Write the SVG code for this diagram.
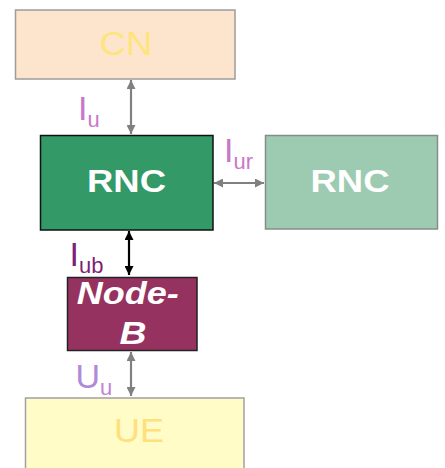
<svg xmlns="http://www.w3.org/2000/svg" width="445" height="468" viewBox="0 0 445 468">
  <style>
    .box { stroke-width: 1.5; }
    .name { font-family: "Liberation Sans", Arial, sans-serif; text-anchor: middle; }
    .bold { font-weight: bold; fill: #ffffff; }
    .iface { font-family: "Liberation Sans", Arial, sans-serif; font-size: 34px; }
    .link { stroke-width: 2.2; fill: none; }
    .grey { stroke: #808080; }
    .dark { stroke: #000000; }
  </style>
  <defs>
    <marker id="tipGrey" viewBox="0 0 10 10" refX="10" refY="5" markerWidth="9" markerHeight="9" markerUnits="userSpaceOnUse" orient="auto-start-reverse">
      <path d="M0,0 L10,5 L0,10 z" fill="#808080"/>
    </marker>
    <marker id="tipDark" viewBox="0 0 10 10" refX="10" refY="5" markerWidth="9" markerHeight="9" markerUnits="userSpaceOnUse" orient="auto-start-reverse">
      <path d="M0,0 L10,5 L0,10 z" fill="#000000"/>
    </marker>
  </defs>

  <rect width="445" height="468" fill="#ffffff"/>

  <!-- links between network elements -->
  <g id="connectors">
    <line class="link grey" x1="131" y1="80" x2="131" y2="134" marker-start="url(#tipGrey)" marker-end="url(#tipGrey)"/>
    <line class="link grey" x1="214" y1="183" x2="264" y2="183" marker-start="url(#tipGrey)" marker-end="url(#tipGrey)"/>
    <line class="link dark" x1="129" y1="231" x2="129" y2="275" marker-start="url(#tipDark)" marker-end="url(#tipDark)"/>
    <line class="link grey" x1="131" y1="352" x2="131" y2="396" marker-start="url(#tipGrey)" marker-end="url(#tipGrey)"/>
    <text class="iface" x="78" y="120" fill="#c878c8">I<tspan font-size="22" dy="7">u</tspan></text>
    <text class="iface" x="224" y="162" fill="#c878c8">I<tspan font-size="22" dy="7">ur</tspan></text>
    <text class="iface" x="69.5" y="266" fill="#7e1f78">I<tspan font-size="22" dy="7">ub</tspan></text>
    <text class="iface" x="75.5" y="388" fill="#b08ad4">U<tspan font-size="22" dy="7" fill="#c084d0">u</tspan></text>
  </g>

  <g id="cn">
    <rect class="box" x="15.5" y="10" width="219.5" height="69" fill="#fde4cd" stroke="#9c9c9c"/>
    <text class="name" x="126" y="55" font-size="33" textLength="53" lengthAdjust="spacingAndGlyphs" fill="#fde47c">CN</text>
  </g>

  <g id="rnc-serving">
    <rect class="box" x="40.5" y="135.5" width="172.5" height="94.5" fill="#339966" stroke="#111111"/>
    <text class="name bold" x="126.5" y="192" font-size="31" textLength="79" lengthAdjust="spacingAndGlyphs">RNC</text>
  </g>

  <g id="rnc-drift">
    <rect class="box" x="265.5" y="135.5" width="172" height="93.5" fill="#9ccbb2" stroke="#8a8a8a"/>
    <text class="name bold" x="350" y="192" font-size="31" textLength="79" lengthAdjust="spacingAndGlyphs">RNC</text>
  </g>

  <g id="node-b">
    <rect class="box" x="67.5" y="277.5" width="129.5" height="73" fill="#963260" stroke="#222222"/>
    <text class="name bold" font-size="31" font-style="italic">
      <tspan x="132" y="304" textLength="102" lengthAdjust="spacingAndGlyphs">Node-</tspan>
      <tspan x="133" y="344" textLength="27" lengthAdjust="spacingAndGlyphs">B</tspan>
    </text>
  </g>

  <g id="ue">
    <rect class="box" x="25.5" y="398" width="218.5" height="75" fill="#fffcc8" stroke="#a0a0a0"/>
    <text class="name" x="139" y="442" font-size="33" textLength="50" lengthAdjust="spacingAndGlyphs" fill="#ffe07c">UE</text>
  </g>
</svg>
